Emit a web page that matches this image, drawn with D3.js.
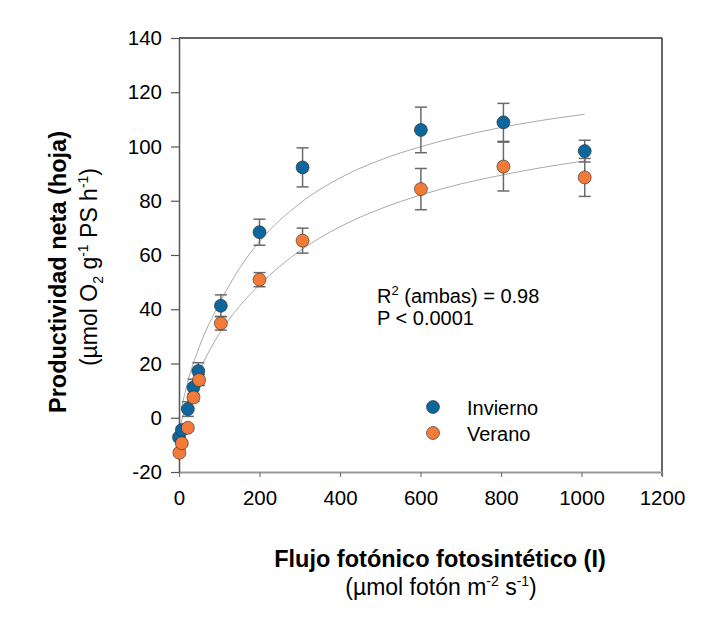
<!DOCTYPE html>
<html>
<head>
<meta charset="utf-8">
<script src="https://cdn.jsdelivr.net/npm/d3@7"></script>
<style>
    body { margin: 0; background: white; }
    text { font-family: "Liberation Sans", Arial, sans-serif; fill: #000; }
</style>
</head>
<body>
<div id="chart"></div>
<script>
// measured points (mean +/- error)
const invX   = [0, 7, 22, 36, 48, 104, 200, 307, 601, 806, 1008];
const invY   = [-7.2, -4.5, 3.2, 11.2, 17.2, 41.3, 68.4, 92.3, 106.1, 108.9, 98.3];
const invErr = [1, 1, 2.7, 3, 3.1, 4, 4.8, 7.2, 8.4, 7, 4];

const verX   = [1, 7, 22, 36, 50, 104, 200, 307, 601, 806, 1008];
const verY   = [-12.9, -9.4, -3.7, 7.5, 13.9, 34.8, 50.9, 65.3, 84.3, 92.6, 88.6];
const verErr = [1, 1, 1, 1.5, 2, 2.5, 2.6, 4.6, 7.6, 9, 7];

// fitted curves
const fitX   = [5, 25, 50, 100, 150, 200, 300, 400, 500, 600, 700, 800, 900, 1008];
const fitInv = [3, 15, 26, 42, 55, 65, 79, 88.4, 95, 99.9, 103.8, 107, 109.6, 111.9];
const fitVer = [-2, 8, 17, 31, 41, 49, 61.5, 70.4, 77, 82.1, 86.2, 89.4, 92.2, 94.7];

const xTicks = [0, 200, 400, 600, 800, 1000, 1200];
const yTicks = [-20, 0, 20, 40, 60, 80, 100, 120, 140];
const seriesNames = ["Invierno", "Verano"];
const seriesColors = ["#0d679c", "#f37b3a"];

const width = 720, height = 628;

const svg = d3.select("#chart")
    .append("svg")
    .attr("width", width)
    .attr("height", height)
    .style("background-color", "white");

const x = d3.scaleLinear().domain([0, 1200]).range([179, 662]);
const y = d3.scaleLinear().domain([-20, 140]).range([472, 38]);

// frame top / right
svg.append("line")
    .attr("x1", x(0)).attr("x2", x(1200))
    .attr("y1", y(140)).attr("y2", y(140))
    .attr("stroke", "#333").attr("stroke-width", 1.5);
svg.append("line")
    .attr("x1", x(1200)).attr("x2", x(1200))
    .attr("y1", y(140)).attr("y2", y(-20) + 4)
    .attr("stroke", "#333").attr("stroke-width", 1.5);

const plain = d => String(d);

const xAxis = svg.append("g")
    .attr("transform", "translate(0," + y(-20) + ")")
    .call(d3.axisBottom(x).tickValues(xTicks).tickFormat(plain).tickSize(5).tickSizeOuter(0).tickPadding(13));
xAxis.select(".domain").attr("stroke", "#999").attr("stroke-width", 2);
xAxis.selectAll(".tick line").attr("stroke", "#777").attr("stroke-width", 1.2);
xAxis.selectAll(".tick text").style("font-size", "20.5px").attr("fill", "#000");

const yAxis = svg.append("g")
    .attr("transform", "translate(" + x(0) + ",0)")
    .call(d3.axisLeft(y).tickValues(yTicks).tickFormat(plain).tickSize(8).tickSizeOuter(0).tickPadding(9));
yAxis.select(".domain").attr("stroke", "#555").attr("stroke-width", 1.5);
yAxis.selectAll(".tick line").attr("stroke", "#555").attr("stroke-width", 1.2);
yAxis.selectAll(".tick text").style("font-size", "20.5px").attr("fill", "#000");

// fit curves
const line = d3.line()
    .x(d => x(d[0]))
    .y(d => y(d[1]))
    .curve(d3.curveMonotoneX);

[fitInv, fitVer].forEach(vals => {
    svg.append("path")
        .datum(fitX.map((v, i) => [v, vals[i]]))
        .attr("d", line)
        .attr("fill", "none")
        .attr("stroke", "#aaa")
        .attr("stroke-width", 1);
});

const series = [
    { xs: invX, ys: invY, err: invErr, color: seriesColors[0] },
    { xs: verX, ys: verY, err: verErr, color: seriesColors[1] }
];

// error bars
const cap = 6;
series.forEach(s => {
    const g = svg.append("g").attr("stroke", "#6a6a6a").attr("stroke-width", 1.5);
    s.xs.forEach((xv, i) => {
        const top = y(s.ys[i] + s.err[i]), bot = y(s.ys[i] - s.err[i]);
        g.append("line").attr("x1", x(xv)).attr("x2", x(xv)).attr("y1", top).attr("y2", bot);
        g.append("line").attr("x1", x(xv) - cap).attr("x2", x(xv) + cap).attr("y1", top).attr("y2", top);
        g.append("line").attr("x1", x(xv) - cap).attr("x2", x(xv) + cap).attr("y1", bot).attr("y2", bot);
    });
});

// dots
series.forEach(s => {
    svg.append("g")
        .selectAll("circle")
        .data(s.xs.map((v, i) => [v, s.ys[i]]))
        .enter()
            .append("circle")
            .attr("cx", d => x(d[0]))
            .attr("cy", d => y(d[1]))
            .attr("r", 6.5)
            .attr("fill", s.color)
            .attr("stroke", "#2b2b2b")
            .attr("stroke-width", 0.6);
});

// legend
const legend = svg.append("g").attr("transform", "translate(433,407)");
seriesNames.forEach((name, i) => {
    legend.append("circle")
        .attr("cx", 0).attr("cy", i * 26)
        .attr("r", 6.5)
        .attr("fill", seriesColors[i])
        .attr("stroke", "#2b2b2b").attr("stroke-width", 0.6);
    legend.append("text")
        .attr("x", 34).attr("y", i * 26 + 8)
        .style("font-size", "20px")
        .text(name);
});

// stats annotation
const stats = svg.append("text").attr("x", 377).attr("y", 303).style("font-size", "20px");
stats.append("tspan").text("R");
stats.append("tspan").attr("dy", -8).style("font-size", "13px").text("2");
stats.append("tspan").attr("dy", 8).text(" (ambas) = 0.98");
svg.append("text").attr("x", 377).attr("y", 325).style("font-size", "20px").text("P < 0.0001");

// x title
svg.append("text")
    .attr("x", 440).attr("y", 567)
    .attr("text-anchor", "middle")
    .style("font-size", "23.5px").style("font-weight", "bold")
    .text("Flujo fotónico fotosintético (I)");
const xSub = svg.append("text")
    .attr("x", 441).attr("y", 595)
    .attr("text-anchor", "middle")
    .style("font-size", "23px");
xSub.append("tspan").text("(µmol fotón m");
xSub.append("tspan").attr("dy", -9).style("font-size", "14px").text("-2");
xSub.append("tspan").attr("dy", 9).text(" s");
xSub.append("tspan").attr("dy", -9).style("font-size", "14px").text("-1");
xSub.append("tspan").attr("dy", 9).text(")");

// y title
svg.append("text")
    .attr("transform", "translate(66,272) rotate(-90)")
    .attr("text-anchor", "middle")
    .style("font-size", "23.5px").style("font-weight", "bold")
    .text("Productividad neta (hoja)");
const ySub = svg.append("text")
    .attr("transform", "translate(97,267) rotate(-90)")
    .attr("text-anchor", "middle")
    .style("font-size", "23px");
ySub.append("tspan").text("(µmol O");
ySub.append("tspan").attr("dy", 6).style("font-size", "14px").text("2");
ySub.append("tspan").attr("dy", -6).text(" g");
ySub.append("tspan").attr("dy", -9).style("font-size", "14px").text("-1");
ySub.append("tspan").attr("dy", 9).text(" PS h");
ySub.append("tspan").attr("dy", -9).style("font-size", "14px").text("-1");
ySub.append("tspan").attr("dy", 9).text(")");
</script>
</body>
</html>
